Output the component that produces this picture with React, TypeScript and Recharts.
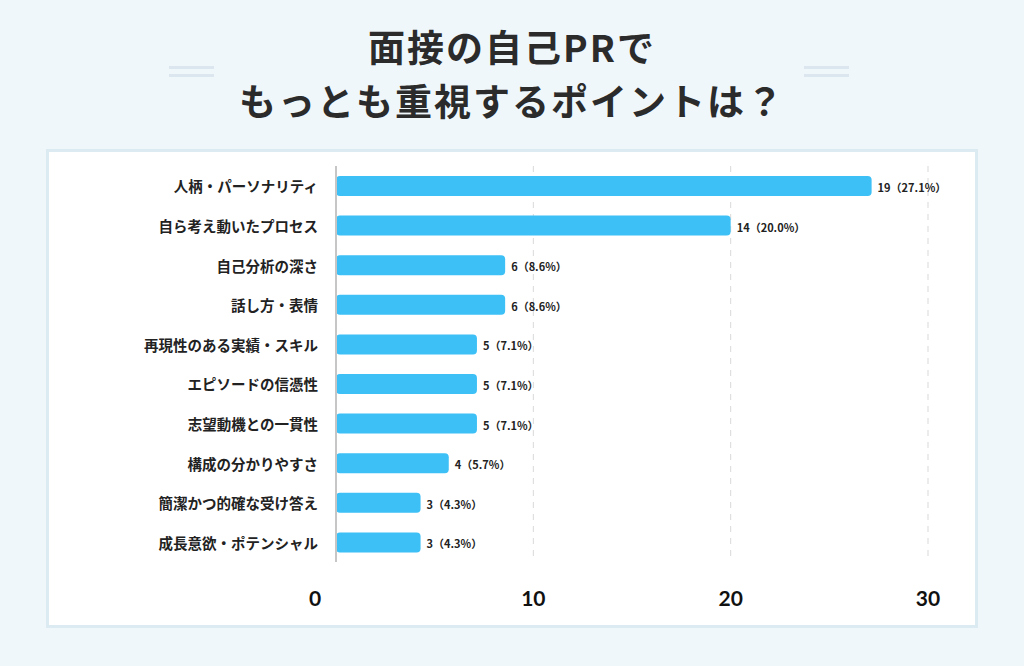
import React from 'react';
import { BarChart, Bar, XAxis, YAxis, CartesianGrid, LabelList } from 'recharts';

const categories = [
  '人柄・パーソナリティ',
  '自ら考え動いたプロセス',
  '自己分析の深さ',
  '話し方・表情',
  '再現性のある実績・スキル',
  'エピソードの信憑性',
  '志望動機との一貫性',
  '構成の分かりやすさ',
  '簡潔かつ的確な受け答え',
  '成長意欲・ポテンシャル',
];
const counts = [19, 14, 6, 6, 5, 5, 5, 4, 3, 3];
const percents = ['27.1', '20.0', '8.6', '8.6', '7.1', '7.1', '7.1', '5.7', '4.3', '4.3'];
const xTicks = [0, 10, 20, 30];
const titleLines = ['面接の自己PRで', 'もっとも重視するポイントは？'];

const data = categories.map((name, i) => ({ name, value: counts[i], pct: percents[i] }));

const JP = '"Noto Sans CJK JP", "Noto Sans", sans-serif';

const XTick = (props: any) => {
  const { x, y, payload } = props;
  const shift = payload.value === 0 ? -21 : 0;
  return (
    <text x={x + shift} y={y + 35} textAnchor="middle" dominantBaseline="central"
      fontFamily='Lato, "Noto Sans", sans-serif' fontWeight={700} fontSize={21} fill="#111">
      {payload.value}
    </text>
  );
};

const YTick = (props: any) => {
  const { x, y, payload } = props;
  return (
    <text x={x} y={y} textAnchor="end" dominantBaseline="central"
      fontFamily={JP} fontWeight={700} fontSize={14.5} fill="#222">
      {payload.value}
    </text>
  );
};

const ValueLabel = (props: any) => {
  const { x, y, width, height, index } = props;
  return (
    <text x={x + width + 6} y={y + height / 2 + 1} dominantBaseline="central"
      fontFamily={JP} fontWeight={700} fontSize={11} fill="#222">
      {`${counts[index]}（${percents[index]}%）`}
    </text>
  );
};

const DecoLines = ({ left }: { left: number }) => (
  <div style={{ position: 'absolute', left, top: 66, width: 45 }}>
    <div style={{ height: 3, background: '#dbe6ee', marginBottom: 5 }} />
    <div style={{ height: 3, background: '#dbe6ee' }} />
  </div>
);

export default function App() {
  return (
    <div style={{ position: 'absolute', left: 0, top: 0, width: 1024, height: 666, background: '#eff7fb', overflow: 'hidden' }}>
      <div style={{ position: 'absolute', left: 0, top: 19, width: 1024, textAlign: 'center', fontFamily: JP, fontWeight: 700, fontSize: 37, lineHeight: '54px', color: '#2b2b2b', letterSpacing: 2 }}>
        <div>{titleLines[0]}</div>
        <div>{titleLines[1]}</div>
      </div>
      <DecoLines left={169} />
      <DecoLines left={804} />
      <div style={{ position: 'absolute', left: 46, top: 149, width: 926, height: 473, background: '#fff', border: '3px solid #dcebf2' }} />
      <div style={{ position: 'absolute', left: 0, top: 0 }}>
        <BarChart width={1024} height={666} data={data} layout="vertical"
          margin={{ top: 166, right: 96, bottom: 44, left: 0 }} barCategoryGap={0}>
          <CartesianGrid horizontal={false} vertical={true} xAxisId="tick" strokeDasharray="6 6" stroke="#d9d9d9" />
          <XAxis xAxisId="tick" type="number" domain={[0, 30]} ticks={xTicks} height={60} allowDataOverflow
            axisLine={false} tickLine={false} tickSize={0} tickMargin={0} tick={<XTick />} />
          <XAxis xAxisId="val" type="number" domain={[0, 21]} hide />
          <YAxis type="category" dataKey="name" width={336} axisLine={{ stroke: '#c6c6c6', strokeWidth: 2 }}
            tickLine={false} tickSize={0} tickMargin={18} tick={<YTick />} interval={0} />
          <Bar xAxisId="val" dataKey="value" fill="#3dc0f5" barSize={20} radius={4} isAnimationActive={false}>
            <LabelList dataKey="value" content={<ValueLabel />} />
          </Bar>
        </BarChart>
      </div>
    </div>
  );
}
